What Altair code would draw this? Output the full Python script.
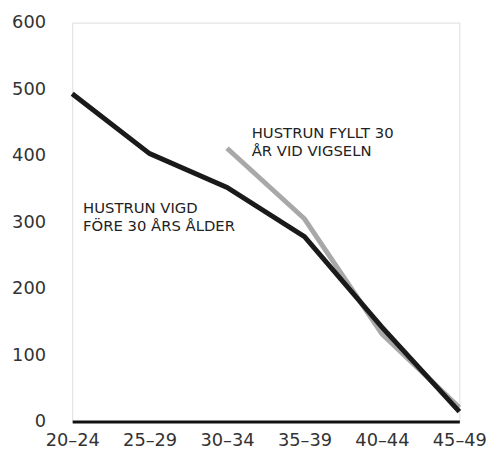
import altair as alt
import pandas as pd

categories = ["20–24", "25–29", "30–34", "35–39", "40–44", "45–49"]
vigd_fore_30 = [493, 403, 352, 278, 142, 15]
fyllt_30_cats = ["30–34", "35–39", "40–44", "45–49"]
fyllt_30 = [411, 305, 132, 21]

label_fyllt = ["HUSTRUN FYLLT 30", "ÅR VID VIGSELN"]
label_vigd = ["HUSTRUN VIGD", "FÖRE 30 ÅRS ÅLDER"]

df_black = pd.DataFrame({"age": categories, "value": vigd_fore_30})
df_grey = pd.DataFrame({"age": fyllt_30_cats, "value": fyllt_30})
df_t1 = pd.DataFrame({"age": ["30–34"], "value": [426], "text": ["\n".join(label_fyllt)]})
df_t2 = pd.DataFrame({"age": ["20–24"], "value": [313], "text": ["\n".join(label_vigd)]})

FONT = "DejaVu Sans"

x = alt.X("age:O", sort=categories,
          scale=alt.Scale(type="point", padding=0, domain=categories),
          axis=alt.Axis(title=None, labelAngle=0, ticks=False, domainColor="#111",
                        domainWidth=3, labelFontSize=18, labelFont=FONT,
                        labelColor="#333", labelPadding=10, grid=False))
y = alt.Y("value:Q", scale=alt.Scale(domain=[0, 600], nice=False),
          axis=alt.Axis(title=None, values=[0, 100, 200, 300, 400, 500, 600],
                        ticks=False, domain=False, grid=False, labelFontSize=18,
                        labelFont=FONT, labelColor="#333", labelPadding=27))

grey = alt.Chart(df_grey).mark_line(color="#a8a8a8", strokeWidth=5, strokeCap="butt").encode(x=x, y=y)
black = alt.Chart(df_black).mark_line(color="#1a1a1a", strokeWidth=5, strokeCap="butt").encode(x=x, y=y)

t1 = alt.Chart(df_t1).mark_text(align="left", baseline="alphabetic", dx=25, fontSize=15,
                                font=FONT, color="#222", lineBreak="\n", lineHeight=18).encode(
    x=x, y=y, text="text:N")
t2 = alt.Chart(df_t2).mark_text(align="left", baseline="alphabetic", dx=11, fontSize=15,
                                font=FONT, color="#222", lineBreak="\n", lineHeight=18).encode(
    x=x, y=y, text="text:N")

chart = alt.layer(grey, black, t1, t2).properties(
    width=392, height=404,
    autosize=alt.AutoSizeParams(type="none"),
    padding={"left": 65, "top": 12, "right": 28, "bottom": 30},
).configure_view(stroke=None).configure_axis(grid=False).configure(background="white")

chart.save("out.html", embed_options={"renderer": "svg", "actions": False})
